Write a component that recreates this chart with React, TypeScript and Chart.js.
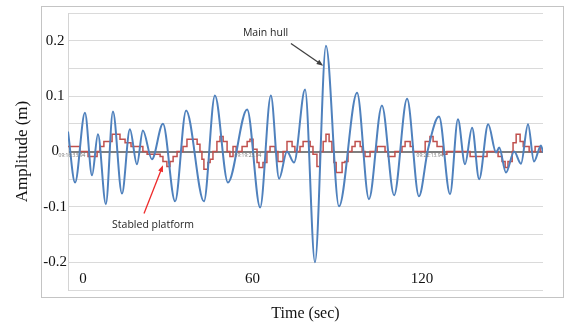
import React, { useEffect, useRef } from 'react';
import { Chart, registerables } from 'chart.js';

Chart.register(...registerables);

// Main hull (blue) – time (s) and amplitude (m)
const hullTime = [-5.3, -2.8, 0.7, 3.2, 5.3, 8.1, 10.6, 13.8, 16.6, 19.1, 21.2, 24.4, 28.3, 32.6, 36.5, 42.8, 46.7, 51.3, 58.1, 62.7, 66.5, 69.4, 72.2, 74.7, 78.6, 82.1, 86.0, 90.6, 97.0, 101.2, 105.8, 110.1, 114.7, 118.9, 122.1, 126.0, 129.9, 132.7, 135.2, 137.7, 140.2, 143.4, 146.2, 147.3, 149.7, 152.6, 155.0, 157.5, 159.6, 162.1, 162.8];
const hullAmp = [0.036, -0.056, 0.070, -0.043, 0.031, -0.095, 0.072, -0.076, 0.040, -0.023, 0.038, -0.014, 0.050, -0.090, 0.074, -0.090, 0.101, -0.056, 0.076, -0.101, 0.101, -0.049, 0.000, -0.020, 0.112, -0.200, 0.191, -0.099, 0.106, -0.086, 0.083, -0.079, 0.095, -0.081, 0.004, 0.063, -0.077, 0.058, -0.023, 0.043, -0.050, 0.049, -0.002, 0.007, -0.038, 0.000, -0.022, 0.049, -0.018, 0.011, -0.002];

// Stabled platform (red, stepped) – each level starts at the given time
const platformTime = [-5.3, -1.1, 1.8, 5.0, 6.0, 7.4, 10.3, 13.1, 14.9, 17.0, 21.2, 22.7, 27.3, 28.3, 29.7, 30.8, 31.9, 33.3, 35.4, 36.8, 40.4, 41.4, 42.1, 42.8, 44.2, 45.0, 46.0, 47.4, 48.5, 49.6, 51.0, 52.0, 53.1, 54.2, 56.3, 58.1, 59.1, 60.2, 61.6, 62.3, 63.7, 65.1, 66.2, 68.0, 69.0, 70.8, 72.2, 74.0, 75.0, 76.8, 77.9, 80.4, 81.4, 82.8, 83.9, 85.0, 86.0, 87.1, 88.1, 88.8, 89.6, 91.7, 92.7, 93.8, 95.2, 96.3, 98.1, 98.8, 99.8, 101.6, 104.1, 106.9, 108.0, 110.4, 112.9, 114.0, 115.8, 116.8, 121.1, 122.8, 123.9, 125.3, 127.4, 128.8, 137.0, 143.0, 146.9, 148.3, 149.4, 150.4, 151.9, 152.2, 153.3, 154.7, 155.8, 157.9, 160.0, 161.8, 162.8];
const platformAmp = [0.009, 0, -0.009, 0, 0.009, 0.018, 0.031, 0.022, 0.016, 0.009, 0, -0.005, -0.009, -0.018, -0.027, -0.018, -0.009, 0, 0.009, 0.022, 0.013, 0, -0.014, -0.032, -0.020, -0.014, 0, 0.018, 0.027, 0.018, 0, -0.009, 0.009, 0, 0.009, 0.018, 0.022, 0.004, -0.020, -0.029, -0.020, 0, 0.009, 0, -0.018, 0, 0.018, 0.009, 0, 0.009, 0.018, 0.009, -0.005, -0.027, 0, 0.018, 0.031, 0.018, 0, -0.020, -0.038, -0.020, -0.018, 0, 0.009, 0.018, 0.009, 0, -0.009, 0, 0.009, 0, -0.009, 0, 0.009, 0.018, 0.009, 0, 0.018, 0.027, 0.018, 0.009, -0.005, 0, -0.009, 0, -0.009, -0.018, -0.029, -0.018, 0, 0.016, 0.031, 0.018, 0.009, 0, 0.009, 0, 0];

const xTickValues = [0, 60, 120];
const xRange = [-5.3, 162.8];
const yRange = [-0.25, 0.25];
const yStep = 0.05;

const timeStampLabels = ['09:16:33.94', '09:19:23.94', '09:22:13.94'];
const timeStampAt = [-3.9, 58.4, 122.8];

const SERIF = '"Liberation Serif", "Times New Roman", serif';
const SANS = '"Open Sans", "Noto Sans", "Liberation Sans", sans-serif';

function drawArrow(ctx: CanvasRenderingContext2D, x1: number, y1: number, x2: number, y2: number, color: string, width: number) {
  const ang = Math.atan2(y2 - y1, x2 - x1);
  const head = 7;
  ctx.save();
  ctx.strokeStyle = color;
  ctx.fillStyle = color;
  ctx.lineWidth = width;
  ctx.beginPath();
  ctx.moveTo(x1, y1);
  ctx.lineTo(x2 - Math.cos(ang) * head * 0.8, y2 - Math.sin(ang) * head * 0.8);
  ctx.stroke();
  ctx.beginPath();
  ctx.moveTo(x2, y2);
  ctx.lineTo(x2 - head * Math.cos(ang - 0.38), y2 - head * Math.sin(ang - 0.38));
  ctx.lineTo(x2 - head * Math.cos(ang + 0.38), y2 - head * Math.sin(ang + 0.38));
  ctx.closePath();
  ctx.fill();
  ctx.restore();
}

const decorPlugin = {
  id: 'decor',
  afterDatasetsDraw(chart: any) {
    const { ctx, chartArea, scales } = chart;
    const xs = scales.x;
    const ys = scales.y;
    // outer chart frame
    ctx.save();
    ctx.strokeStyle = '#c4c4c4';
    ctx.lineWidth = 1;
    ctx.strokeRect(chartArea.left - 26.5, chartArea.top - 6.5, chartArea.right - chartArea.left + 47, chartArea.bottom - chartArea.top + 14);
    ctx.restore();

    // tiny time stamps on the zero line
    ctx.save();
    ctx.font = '5px ' + SANS;
    ctx.fillStyle = '#777';
    ctx.textAlign = 'center';
    ctx.textBaseline = 'middle';
    timeStampLabels.forEach((s, i) => {
      ctx.fillText(s, xs.getPixelForValue(timeStampAt[i]), ys.getPixelForValue(-0.008));
    });
    ctx.restore();

    // annotations
    drawArrow(ctx, xs.getPixelForValue(73.6), ys.getPixelForValue(0.195), xs.getPixelForValue(85.0), ys.getPixelForValue(0.155), '#404040', 1.3);
    drawArrow(ctx, xs.getPixelForValue(21.6), ys.getPixelForValue(-0.112), xs.getPixelForValue(28.3), ys.getPixelForValue(-0.025), '#ee2a2a', 1.3);
    ctx.save();
    ctx.font = '10.5px ' + SANS;
    ctx.fillStyle = '#262626';
    ctx.textAlign = 'left';
    ctx.textBaseline = 'middle';
    ctx.fillText('Main hull', xs.getPixelForValue(56.6), ys.getPixelForValue(0.214));
    ctx.fillText('Stabled platform', xs.getPixelForValue(10.3), ys.getPixelForValue(-0.133));
    ctx.restore();
  },
};

export default function App() {
  const ref = useRef<HTMLCanvasElement | null>(null);
  useEffect(() => {
    if (!ref.current) return;
    const chart = new Chart(ref.current, {
      type: 'line',
      data: {
        datasets: [
          {
            label: 'Main hull',
            data: hullTime.map((t, i) => ({ x: t, y: hullAmp[i] })),
            borderColor: '#4F81BD',
            borderWidth: 2,
            pointRadius: 0,
            cubicInterpolationMode: 'monotone',
            fill: false,
          },
          {
            label: 'Stabled platform',
            data: platformTime.map((t, i) => ({ x: t, y: platformAmp[i] })),
            borderColor: '#C0504D',
            borderWidth: 1.5,
            pointRadius: 0,
            stepped: true,
            fill: false,
          },
        ],
      },
      options: {
        animation: false,
        responsive: false,
        maintainAspectRatio: false,
        layout: { padding: { left: 0, right: 23, top: 13, bottom: 0 } },
        plugins: { legend: { display: false }, tooltip: { enabled: false } },
        scales: {
          x: {
            type: 'linear',
            min: xRange[0],
            max: xRange[1],
            grid: { display: false, drawTicks: false },
            border: { display: false },
            afterBuildTicks: (s: any) => {
              s.ticks = xTickValues.map((v) => ({ value: v }));
            },
            afterFit: (s: any) => {
              s.height = 34;
            },
            ticks: {
              autoSkip: false,
              maxRotation: 0,
              mirror: true,
              padding: 2,
              color: '#111',
              font: { family: SERIF, size: 15 },
              callback: (v: any) => String(v),
            },
            title: {
              display: true,
              text: 'Time (sec)',
              color: '#111',
              font: { family: SERIF, size: 16 },
              padding: { top: 0, bottom: 1 },
            },
          },
          y: {
            min: yRange[0],
            max: yRange[1],
            afterFit: (s: any) => {
              s.width = 68;
            },
            ticks: {
              stepSize: yStep,
              padding: 1,
              crossAlign: 'center',
              color: '#111',
              font: { family: SERIF, size: 15 },
              callback: (v: any) => {
                const r = Math.round(Number(v) * 100);
                if (r % 10 !== 0) return '';
                return String(r / 100);
              },
            },
            grid: {
              drawTicks: false,
              color: (c: any) => (Math.abs(c.tick.value) < 1e-9 ? '#7f7f7f' : '#dadada'),
              lineWidth: (c: any) => (Math.abs(c.tick.value) < 1e-9 ? 2 : 1),
            },
            border: { display: true, color: '#d4d4d4' },
            title: {
              display: true,
              text: 'Amplitude (m)',
              color: '#111',
              font: { family: SERIF, size: 17 },
              padding: { top: 12, bottom: 0 },
            },
          },
        },
      },
      plugins: [decorPlugin],
    } as any);
    return () => chart.destroy();
  }, []);
  return (
    <div style={{ position: 'fixed', left: 0, top: 0, width: 566, height: 324, background: '#fff' }}>
      <canvas ref={ref} width={566} height={324} style={{ display: 'block', width: 566, height: 324 }} />
    </div>
  );
}
